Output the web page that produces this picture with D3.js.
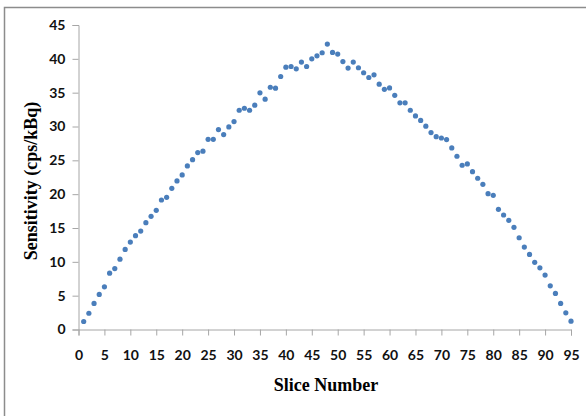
<!DOCTYPE html>
<html><head><meta charset="utf-8">
<script src="https://cdn.jsdelivr.net/npm/d3@7"></script>
<style>body{margin:0;background:#fff;}svg{display:block;}</style>
</head><body>
<svg id="c" width="586" height="416"></svg>
<script>
const slices = d3.range(1, 96);
const sensitivity = [
1.18,2.4,3.85,5.18,6.3,8.33,9.0,10.4,11.84,12.92,
13.86,14.55,15.78,16.73,17.61,19.14,19.54,20.87,21.95,22.84,
24.17,25.1,26.14,26.35,28.1,28.1,29.55,28.8,29.94,30.73,
32.4,32.7,32.4,33.15,34.97,34.04,35.8,35.67,37.39,38.77,
38.87,38.53,39.52,38.87,40.0,40.45,40.9,42.18,40.94,40.7,
39.6,38.63,39.52,38.68,37.94,37.24,37.64,36.26,35.5,35.7,
34.6,33.5,33.5,32.4,31.57,30.9,30.05,29.1,28.5,28.3,
28.07,26.84,25.6,24.27,24.47,23.33,22.35,21.46,20.07,19.83,
17.76,16.92,16.13,15.1,13.56,12.18,11.1,9.92,9.12,8.04,
6.45,5.33,3.85,2.46,1.23];
const xTicks = d3.range(0, 96, 5);
const yTicks = d3.range(0, 46, 5);

const svg = d3.select("#c");
svg.append("rect").attr("x",4.5).attr("y",7.5).attr("width",700).attr("height",600)
  .attr("fill","#fff").attr("stroke","#8c8c8c").attr("stroke-width",1.5);

const x = d3.scaleLinear().domain([0,95]).range([78.5,571]);
const y = d3.scaleLinear().domain([0,45]).range([329.5,25]);

const tickFont = "Lato, 'Open Sans', sans-serif";
const gx = svg.append("g").attr("transform","translate(0,329.5)")
  .call(d3.axisBottom(x).tickValues(xTicks).tickSize(6).tickPadding(15).tickFormat(d3.format("d")));
const gy = svg.append("g").attr("transform","translate(78.5,0)")
  .call(d3.axisLeft(y).tickValues(yTicks).tickSize(6).tickPadding(7).tickFormat(d3.format("d")));
[gx,gy].forEach(g=>{
  g.select(".domain").attr("stroke","#a6a6a6");
  g.selectAll(".tick line").attr("stroke","#a6a6a6");
  g.selectAll(".tick text").attr("fill","#111").style("font-family",tickFont).style("font-size","14px").style("font-weight","bold");
});

svg.append("g").selectAll("circle").data(slices).join("circle")
  .attr("cx", d=>x(d)).attr("cy", (d,i)=>y(sensitivity[i])).attr("r",2.6)
  .attr("fill","#4a7ebb");

svg.append("text").attr("x",326).attr("y",391).attr("text-anchor","middle")
  .style("font-family","'Liberation Serif', serif").style("font-weight","bold").style("font-size","18px")
  .text("Slice Number");
svg.append("text").attr("transform","translate(37,181) rotate(-90)").attr("text-anchor","middle")
  .style("font-family","'Liberation Serif', serif").style("font-weight","bold").style("font-size","18px")
  .text("Sensitivity (cps/kBq)");
</script>
</body></html>
